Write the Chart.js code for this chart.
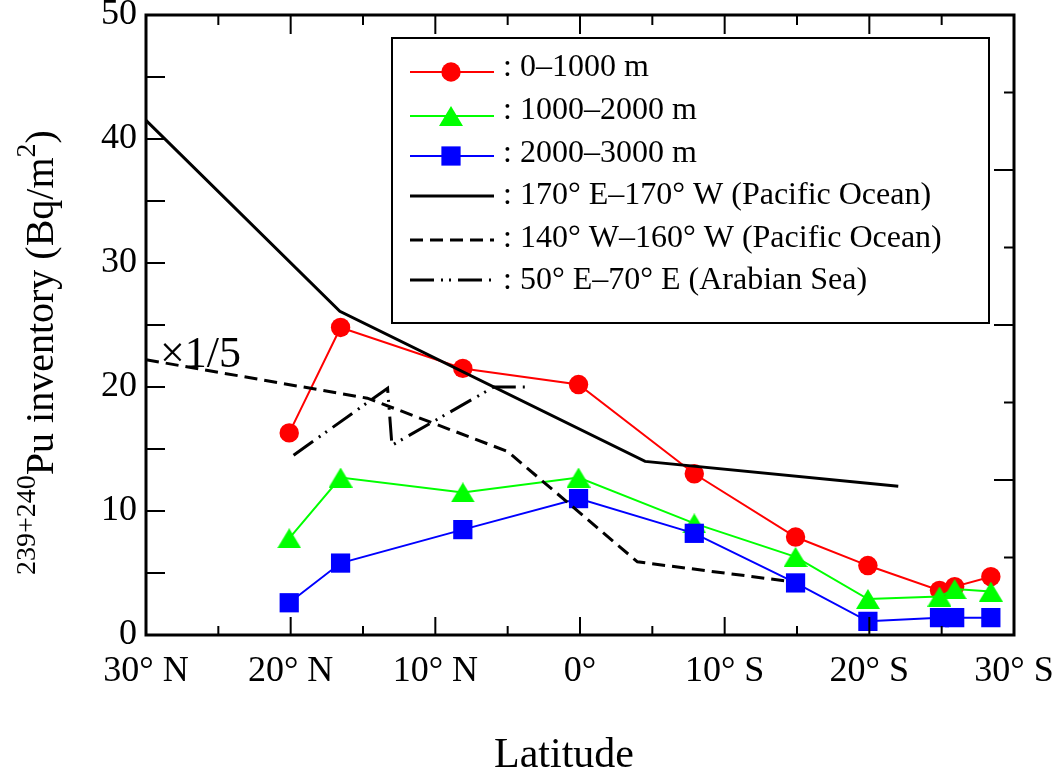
<!DOCTYPE html>
<html><head><meta charset="utf-8">
<script src="https://cdn.jsdelivr.net/npm/chart.js@4.4.1/dist/chart.umd.min.js"></script>
<style>html,body{margin:0;padding:0;background:#fff;}#wrap{width:1064px;height:776px;}</style>
</head><body><div id="wrap"><canvas id="c" width="1064" height="776"></canvas></div>
<script>
// ---- data ----
const latTicks = [-30, -20, -10, 0, 10, 20, 30];
const latTickLabels = ['30° N', '20° N', '10° N', '0°', '10° S', '20° S', '30° S'];
const yTickValues = [0, 10, 20, 30, 40, 50];

const stationLat = [-20.1, -16.55, -8.1, -0.1, 7.9, 14.9, 19.9, 24.85, 25.9, 28.4];
const pu0to1000 = [16.3, 24.8, 21.5, 20.2, 13.0, 7.9, 5.6, 3.6, 3.9, 4.7];
const pu1000to2000 = [7.8, 12.7, 11.5, 12.7, 9.0, 6.3, 2.9, 3.1, 3.7, 3.5];
const pu2000to3000 = [2.6, 5.8, 8.5, 11.0, 8.2, 4.2, 1.1, 1.4, 1.4, 1.4];

const pacific170Lat = [-30, -16.6, 4.5, 22.0];
const pacific170Val = [41.5, 26.1, 14.0, 12.0];
const pacific140Lat = [-30, -14.7, -5.0, 3.97, 14.3];
const pacific140Val = [22.2, 19.1, 14.8, 5.9, 4.35];
const arabianLat = [-19.8, -13.3, -13.0, -5.96, -3.77];
const arabianVal = [14.5, 19.9, 15.3, 20.0, 20.0];

const seriesLabels = [': 0–1000 m', ': 1000–2000 m', ': 2000–3000 m',
  ': 170° E–170° W (Pacific Ocean)', ': 140° W–160° W (Pacific Ocean)', ': 50° E–70° E (Arabian Sea)'];

// ---- helpers ----
const pts = (xs, ys) => xs.map((v, i) => ({x: v, y: ys[i]}));
const FONT = '"Liberation Serif", "Times New Roman", serif';

const tri = document.createElement('canvas');
tri.width = 24; tri.height = 20;
(function(){ const g = tri.getContext('2d'); g.fillStyle = '#00ff00';
  g.beginPath(); g.moveTo(12, 0); g.lineTo(24, 20); g.lineTo(0, 20); g.closePath(); g.fill(); })();

const DASH = [13, 7];
const DASHDOT = [24, 7, 2, 6, 2, 7];

const datasets = [
  {label: seriesLabels[0], data: pts(stationLat, pu0to1000), borderColor: '#ff0000', backgroundColor: '#ff0000',
   borderWidth: 2, pointStyle: 'circle', pointRadius: 9.7, pointBorderWidth: 0, order: 3},
  {label: seriesLabels[1], data: pts(stationLat, pu1000to2000), borderColor: '#00ff00', backgroundColor: '#00ff00',
   borderWidth: 2, pointStyle: tri, pointRadius: 12, order: 2},
  {label: seriesLabels[2], data: pts(stationLat, pu2000to3000), borderColor: '#0000ff', backgroundColor: '#0000ff',
   borderWidth: 2, pointStyle: 'rect', pointRadius: 13.6, pointBorderWidth: 0, order: 1},
  {label: seriesLabels[3], data: pts(pacific170Lat, pacific170Val), borderColor: '#000', borderWidth: 3, pointRadius: 0, order: 0},
  {label: seriesLabels[4], data: pts(pacific140Lat, pacific140Val), borderColor: '#000', borderWidth: 3, borderDash: DASH, pointRadius: 0, order: 0},
  {label: seriesLabels[5], data: pts(arabianLat, arabianVal), borderColor: '#000', borderWidth: 3, borderDash: DASHDOT, pointRadius: 0, order: 0}
];
datasets.forEach(d => { d.tension = 0; d.fill = false; d.pointHoverRadius = d.pointRadius; });

const decor = {
  id: 'decor',
  afterDraw(chart) {
    const {ctx, chartArea: a, scales: {x, y}} = chart;
    ctx.save();
    ctx.strokeStyle = '#000'; ctx.fillStyle = '#000';
    // tick marks on all four sides
    ctx.lineWidth = 2;
    ctx.beginPath();
    for (let v = -25; v <= 25; v += 5) {
      const px = x.getPixelForValue(v), major = v % 10 === 0;
      ctx.moveTo(px, a.bottom); ctx.lineTo(px, a.bottom - (major ? 18 : 9));
      ctx.moveTo(px, a.top); ctx.lineTo(px, a.top + (major ? 19 : 10));
    }
    for (let v = 5; v < 50; v += 5) {
      const py = y.getPixelForValue(v);
      ctx.moveTo(a.left, py); ctx.lineTo(a.left + 19, py);
    }
    for (let k = 1; k < 8; k++) {
      const py = y.getPixelForValue(k * 50 / 8);
      ctx.moveTo(a.right, py); ctx.lineTo(a.right - (k % 2 === 0 ? 20 : 10), py);
    }
    ctx.stroke();
    // frame
    ctx.lineWidth = 3;
    ctx.strokeRect(a.left, a.top, a.right - a.left, a.bottom - a.top);

    // legend
    ctx.lineWidth = 2;
    ctx.strokeRect(392, 38, 597, 285);
    const lineY = [72, 116, 156, 196, 240, 280];
    const textY = [76, 119, 162, 204, 247, 289];
    ctx.font = '32px ' + FONT; ctx.textAlign = 'left'; ctx.textBaseline = 'alphabetic';
    datasets.forEach((d, i) => {
      ctx.save();
      ctx.strokeStyle = d.borderColor; ctx.lineWidth = d.borderWidth;
      ctx.setLineDash(d.borderDash || []);
      ctx.beginPath(); ctx.moveTo(410, lineY[i]); ctx.lineTo(494, lineY[i]); ctx.stroke();
      ctx.setLineDash([]);
      ctx.fillStyle = d.backgroundColor || '#000';
      if (d.pointStyle === 'circle') { ctx.beginPath(); ctx.arc(451, lineY[i], d.pointRadius, 0, Math.PI * 2); ctx.fill(); }
      else if (d.pointStyle === 'rect') { const s = d.pointRadius * Math.SQRT1_2; ctx.fillRect(451 - s, lineY[i] - s, 2 * s, 2 * s); }
      else if (d.pointStyle === tri) { ctx.drawImage(tri, 451 - tri.width / 2, lineY[i] - tri.height / 2); }
      ctx.restore();
      ctx.fillStyle = '#000';
      ctx.fillText(d.label, 503, textY[i]);
    });

    // ×1/5 annotation
    ctx.font = '44px ' + FONT;
    ctx.fillText('×1/5', 160, 367);

    // x title
    ctx.font = '42px ' + FONT; ctx.textAlign = 'center';
    ctx.fillText('Latitude', 564, 767);

    // y title with superscripts
    ctx.save();
    ctx.translate(53, 575); ctx.rotate(-Math.PI / 2);
    ctx.textAlign = 'left';
    let cx = 0;
    ctx.font = '28px ' + FONT; ctx.fillText('239+240', cx, -18); cx += ctx.measureText('239+240').width;
    ctx.font = '40px ' + FONT; ctx.fillText('Pu inventory (Bq/m', cx, 0); cx += ctx.measureText('Pu inventory (Bq/m').width;
    ctx.font = '28px ' + FONT; ctx.fillText('2', cx, -18); cx += ctx.measureText('2').width;
    ctx.font = '40px ' + FONT; ctx.fillText(')', cx, 0);
    ctx.restore();
    ctx.restore();
  }
};

new Chart(document.getElementById('c'), {
  type: 'line',
  data: {datasets},
  options: {
    responsive: false, devicePixelRatio: 1, animation: false,
    layout: {padding: {left: 0, top: 15, right: 50, bottom: 0}},
    plugins: {legend: {display: false}, tooltip: {enabled: false}},
    scales: {
      x: {type: 'linear', min: -30, max: 30,
        afterFit: s => { s.height = 141; s.paddingLeft = 0; s.paddingRight = 0; },
        afterBuildTicks: s => { s.ticks = latTicks.map(v => ({value: v})); },
        grid: {display: false, drawTicks: false}, border: {display: false},
        ticks: {autoSkip: false, maxRotation: 0, padding: 15, color: '#000', font: {family: FONT, size: 36},
          callback: v => latTickLabels[latTicks.indexOf(v)]}},
      y: {type: 'linear', min: 0, max: 50,
        afterFit: s => { s.width = 146; s.paddingTop = 0; s.paddingBottom = 0; },
        afterBuildTicks: s => { s.ticks = yTickValues.map(v => ({value: v})); },
        grid: {display: false, drawTicks: false}, border: {display: false},
        ticks: {padding: 9, color: '#000', font: {family: FONT, size: 36}}}
    }
  },
  plugins: [decor]
});
</script></body></html>
